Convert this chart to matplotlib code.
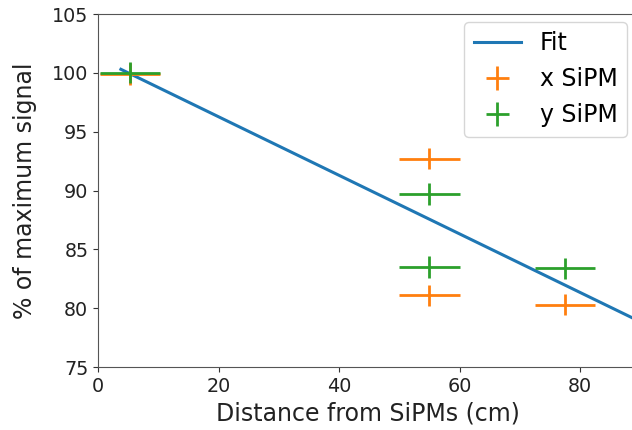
import matplotlib
matplotlib.use("Agg")
import matplotlib.pyplot as plt

# Data
fit_x = [3.8, 90.0]
fit_y = [100.3, 78.85]

x_sipm_x = [5.3, 55.0, 55.0, 77.5]
x_sipm_y = [99.9, 92.7, 81.1, 80.3]
y_sipm_x = [5.3, 55.0, 55.0, 77.5]
y_sipm_y = [100.0, 89.7, 83.5, 83.4]
xerr = [5.0, 5.0, 5.0, 5.0]
yerr = [0.9, 0.9, 0.9, 0.9]

W, H = 632, 430
fig = plt.figure(figsize=(W / 100, H / 100), dpi=100)
x0, x1 = 98, 637
y_top, y_bot = 14, 367
ax = fig.add_axes([x0 / W, 1 - y_bot / H, (x1 - x0) / W, (y_bot - y_top) / H])

ax.plot(fit_x, fit_y, color="#1f77b4", lw=2.2, label="Fit")
ax.errorbar(x_sipm_x, x_sipm_y, xerr=xerr, yerr=yerr, fmt="none",
            ecolor="#ff7f0e", elinewidth=2, label="x SiPM")
ax.errorbar(y_sipm_x, y_sipm_y, xerr=xerr, yerr=yerr, fmt="none",
            ecolor="#2ca02c", elinewidth=2, label="y SiPM")

ax.set_xlim(0, (x1 - x0) / 6.025)
ax.set_ylim(75, 105)
ax.set_xticks([0, 20, 40, 60, 80])
ax.set_yticks([75, 80, 85, 90, 95, 100, 105])
ax.tick_params(labelsize=13.8, colors="#333333", labelcolor="#222222")
for s in ax.spines.values():
    s.set_color("#555555")
ax.set_xlabel("Distance from SiPMs (cm)", fontsize=17, color="#222222", labelpad=4)
ax.set_ylabel("% of maximum signal", fontsize=17, color="#222222", labelpad=11)
ax.legend(fontsize=17, loc="upper right",
          bbox_to_anchor=(627 / W, 1 - 22 / H), bbox_transform=fig.transFigure,
          borderaxespad=0)

fig.savefig("out.png", dpi=100)
